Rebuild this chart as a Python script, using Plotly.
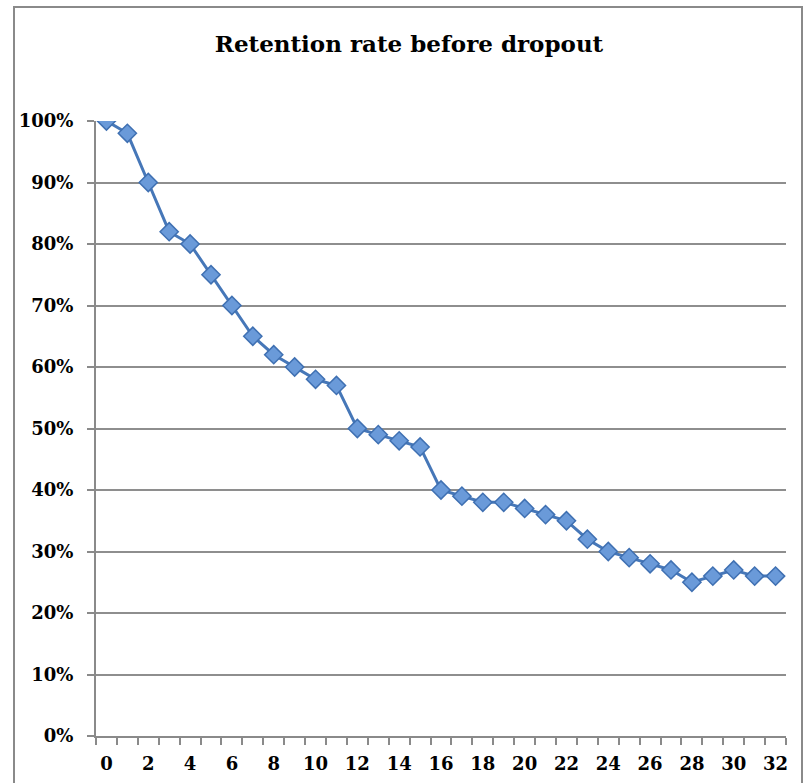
import plotly.graph_objects as go

periods = list(range(33))
retention = [1.00, 0.98, 0.90, 0.82, 0.80, 0.75, 0.70, 0.65, 0.62, 0.60, 0.58, 0.57,
             0.50, 0.49, 0.48, 0.47, 0.40, 0.39, 0.38, 0.38, 0.37, 0.36, 0.35, 0.32,
             0.30, 0.29, 0.28, 0.27, 0.25, 0.26, 0.27, 0.26, 0.26]
x_labels = list(range(0, 33, 2))
y_ticks = [i / 10 for i in range(11)]
y_labels = [f"{int(round(v * 100))}%" for v in y_ticks]

W, H = 806, 783
L, R, T, B = 96, 786, 121, 736
pw, ph = R - L, B - T

FONT = "DejaVu Serif"

fig = go.Figure()
fig.add_trace(go.Scatter(
    x=periods, y=retention, mode="lines+markers",
    line=dict(color="#4677b8", width=3),
    marker=dict(symbol="diamond", size=14, color="#6a9ad9",
                line=dict(color="#3f70b2", width=1.5)),
    showlegend=False, hoverinfo="x+y",
))

def px_x(p):
    return (p - L) / pw

def px_y(p):
    return (B - p) / ph

fig.add_shape(type="rect", xref="paper", yref="paper",
              x0=px_x(14), x1=px_x(802), y0=px_y(800), y1=px_y(7),
              line=dict(color="#8a8a8a", width=2), fillcolor="rgba(0,0,0,0)", layer="below")

fig.update_layout(
    width=W, height=H,
    margin=dict(l=L, r=W - R, t=T, b=H - B, autoexpand=False),
    paper_bgcolor="white", plot_bgcolor="white",
    title=dict(text="<b>Retention rate before dropout</b>", x=409 / W, xanchor="center",
               y=1 - 44 / H, yanchor="middle", yref="container",
               font=dict(family=FONT, size=23, color="black")),
    xaxis=dict(range=[-0.5, 32.5], tickmode="array", tickvals=x_labels,
               ticktext=[f"<b>{v}</b>" for v in x_labels], ticks="", showgrid=False,
               ticklabelstandoff=10,
               showline=True, linecolor="#8a8a8a", linewidth=2, zeroline=False,
               tickfont=dict(family=FONT, size=18, color="black"),
               minor=dict(ticks="outside", tick0=-0.5, dtick=1, ticklen=7,
                          tickcolor="#8a8a8a", tickwidth=1.5, showgrid=False),
               fixedrange=True),
    yaxis=dict(range=[0, 1], tickmode="array", tickvals=y_ticks,
               ticktext=[f"<b>{t}</b>" for t in y_labels],
               ticks="outside", ticklen=7, tickcolor="#8a8a8a", tickwidth=1.5,
               ticklabelstandoff=10,
               showgrid=True, gridcolor="#8e8e8e", gridwidth=1.5,
               showline=True, linecolor="#8a8a8a", linewidth=2, zeroline=False,
               tickfont=dict(family=FONT, size=18, color="black"),
               fixedrange=True),
)

fig.write_html("out.html", config={"displayModeBar": False},
               post_script="document.body.style.margin='0';document.body.style.overflow='hidden';")
